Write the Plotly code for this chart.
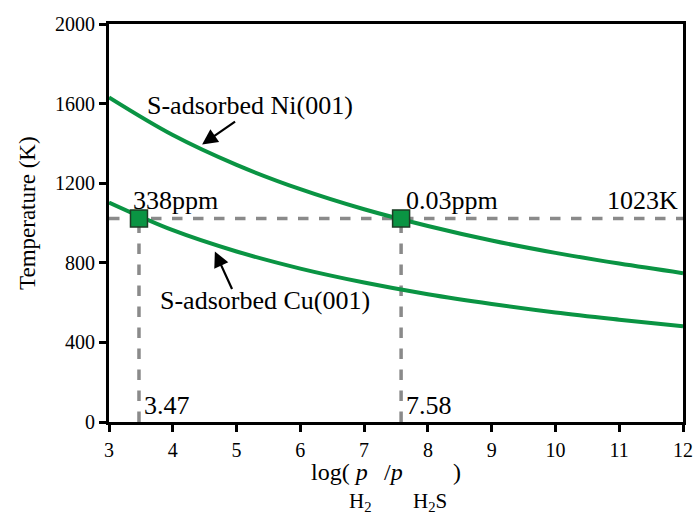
import plotly.graph_objects as go

# Data
x_vals = [3, 4, 5, 6, 7, 8, 9, 10, 11, 12]
ni_T = [1631, 1442, 1292, 1170, 1069, 985, 912, 850, 796, 748]
cu_T = [1103, 964, 857, 771, 701, 642, 593, 550, 514, 481]
marker_x = [3.47, 7.58]
marker_T = [1023, 1023]
marker_ppm = ["338ppm", "0.03ppm"]
T_line = 1023
x_ticks = [3, 4, 5, 6, 7, 8, 9, 10, 11, 12]
y_ticks = [0, 400, 800, 1200, 1600, 2000]

FONT = "Liberation Serif, Times New Roman, serif"
GREEN = "#0a9443"
GRAY = "#8a8a8a"

W, H = 694, 518
ML, MR, MT, MB = 109, 11, 24, 96
PW, PH = W - ML - MR, H - MT - MB


def px_x(p):
    return (p - ML) / PW


def px_y(p):
    return (H - MB - p) / PH


fig = go.Figure()

# Dashed guide lines
fig.add_trace(go.Scatter(x=[3, 12], y=[T_line, T_line], mode="lines",
                         line=dict(color=GRAY, width=3.5, dash="dash"),
                         showlegend=False, hoverinfo="skip"))
for mx in marker_x:
    fig.add_trace(go.Scatter(x=[mx, mx], y=[0, T_line], mode="lines",
                             line=dict(color=GRAY, width=3.5, dash="dash"),
                             showlegend=False, hoverinfo="skip"))

# Curves
fig.add_trace(go.Scatter(x=x_vals, y=ni_T, mode="lines", line_shape="spline",
                         line=dict(color=GREEN, width=4), showlegend=False))
fig.add_trace(go.Scatter(x=x_vals, y=cu_T, mode="lines", line_shape="spline",
                         line=dict(color=GREEN, width=4), showlegend=False))

# Markers
fig.add_trace(go.Scatter(x=marker_x, y=marker_T, mode="markers",
                         marker=dict(symbol="square", size=17, color=GREEN,
                                     line=dict(color="#1d3b25", width=1.5)),
                         showlegend=False))

ann_font = dict(family=FONT, size=26, color="black")

# ppm labels
fig.add_annotation(x=3.35, y=T_line + 5, text=marker_ppm[0], showarrow=False,
                   xanchor="left", yanchor="bottom", font=ann_font)
fig.add_annotation(x=7.63, y=T_line + 5, text=marker_ppm[1], showarrow=False,
                   xanchor="left", yanchor="bottom", font=ann_font)
fig.add_annotation(x=11.95, y=T_line + 5, text=f"{T_line}K", showarrow=False,
                   xanchor="right", yanchor="bottom", font=ann_font)
# x value labels
for mx in marker_x:
    fig.add_annotation(x=mx + 0.05, y=1, text=f"{mx:.2f}", showarrow=False,
                       xanchor="left", yanchor="bottom", font=ann_font)

# Curve labels with arrows
fig.add_annotation(x=3.56, y=1590, text="S-adsorbed Ni(001)", showarrow=False,
                   xanchor="left", yanchor="middle", font=ann_font)
fig.add_annotation(x=4.46, y=1395, ax=5.0, ay=1515, axref="x", ayref="y",
                   text="", showarrow=True, arrowhead=2, arrowsize=1.4,
                   arrowwidth=2.2, arrowcolor="black")
fig.add_annotation(x=3.77, y=611, text="S-adsorbed Cu(001)", showarrow=False,
                   xanchor="left", yanchor="middle", font=ann_font)
fig.add_annotation(x=4.66, y=857, ax=4.94, ay=661, axref="x", ayref="y",
                   text="", showarrow=True, arrowhead=2, arrowsize=1.4,
                   arrowwidth=2.2, arrowcolor="black")

# Y-axis title
fig.add_annotation(xref="paper", yref="paper", x=px_x(27), y=px_y(213),
                   text="Temperature (K)", textangle=-90, showarrow=False,
                   xanchor="center", yanchor="middle",
                   font=dict(family=FONT, size=23, color="black"))

# X-axis title pieces: log( p_H2 / p_H2S )
main_font = dict(family=FONT, size=24, color="black")
sub_font = dict(family=FONT, size=21, color="black")
x_title_pieces = [
    ("log( <i>p</i>", 310, 486, main_font),
    ("H<sub>2</sub>", 348, 516, sub_font),
    ("/<i>p</i>", 383, 486, main_font),
    ("H<sub>2</sub>S", 412, 516, sub_font),
    (")", 452, 486, main_font),
]
for txt, lx, by, f in x_title_pieces:
    fig.add_annotation(xref="paper", yref="paper", x=px_x(lx), y=px_y(by),
                       text=txt, showarrow=False, xanchor="left", yanchor="bottom",
                       font=f, borderpad=0)

axis_common = dict(showgrid=False, zeroline=False, showline=True, linecolor="black",
                   linewidth=3, mirror=True, ticks="outside", ticklen=7, tickwidth=3,
                   tickcolor="black", automargin=False,
                   tickfont=dict(family=FONT, size=20, color="black"))

fig.update_xaxes(range=[3, 12], tickvals=x_ticks, ticklabelstandoff=1, **axis_common)
fig.update_yaxes(range=[0, 2000], tickvals=y_ticks, **axis_common)

fig.update_layout(width=W, height=H, plot_bgcolor="white", paper_bgcolor="white",
                  margin=dict(l=ML, r=MR, t=MT, b=MB), showlegend=False,
                  font=dict(family=FONT))

fig.write_html("out.html", config={"displayModeBar": False},
               post_script="document.body.style.margin='0';document.body.style.overflow='hidden';")
